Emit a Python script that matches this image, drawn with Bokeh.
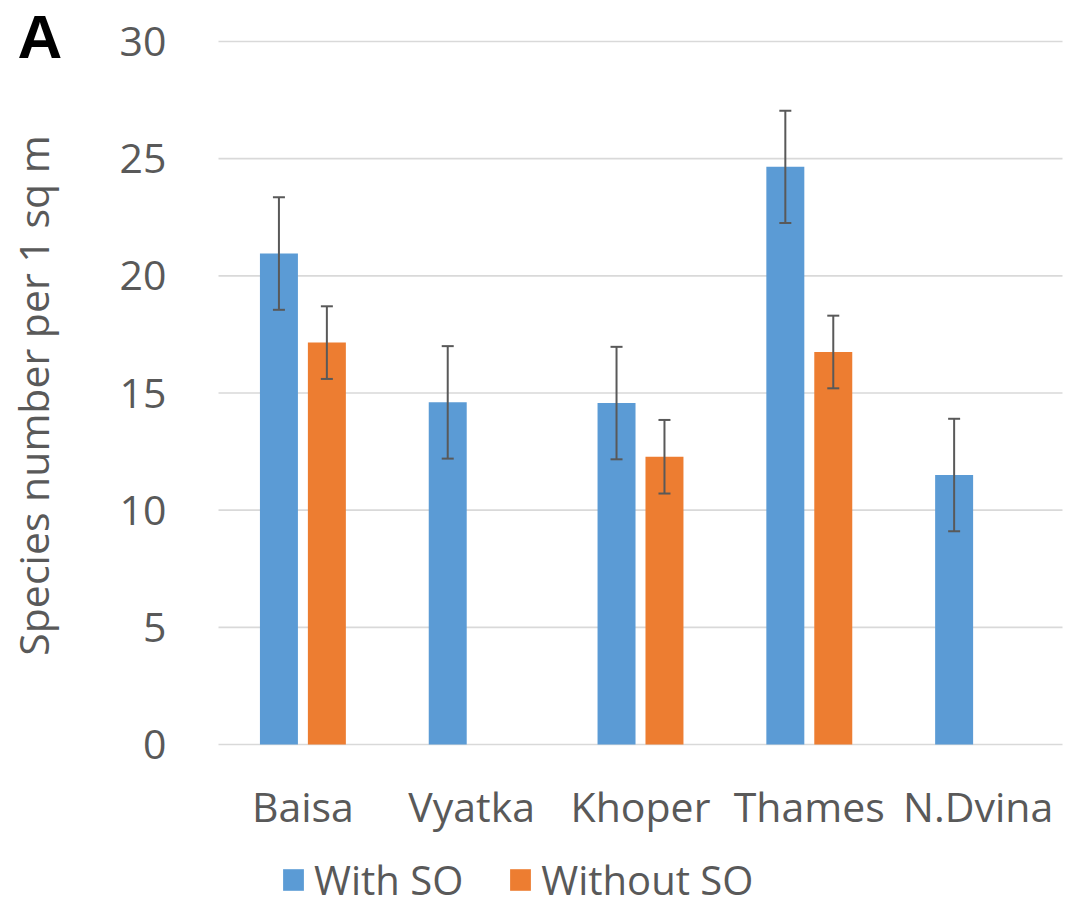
import math
from bokeh.plotting import figure
from bokeh.models import (ColumnDataSource, Range1d, Whisker, TeeHead,
                          Legend, LegendItem, Label, FixedTicker)
from bokeh.embed import file_html
from bokeh.resources import INLINE

# Mean species number per 1 sq m with standard errors, per river
rivers = ["Baisa", "Vyatka", "Khoper", "Thames", "N.Dvina"]
with_so = [20.95, 14.6, 14.57, 24.65, 11.5]
with_so_err = [2.4, 2.4, 2.4, 2.4, 2.4]
without_so = [17.15, None, 12.28, 16.75, None]
without_so_err = [1.55, None, 1.57, 1.55, None]
y_ticks = [0, 5, 10, 15, 20, 25, 30]
y_title = "Species number per 1 sq m"
panel_letter = "A"

BLUE = "#5B9BD5"
ORANGE = "#ED7D31"
TEXT = "#595959"
GRID = "#D9D9D9"
FONT = "Open Sans"

W, H = 1066, 907
# plot area inside the canvas (pixels)
AREA_L, AREA_R, AREA_T, AREA_B = 218, 1062, 41, 744
Y_MIN, Y_MAX = 0, 30

n = len(rivers)
centers = [i + 0.5 for i in range(n)]
px_x = (AREA_R - AREA_L) / n
px_y = (AREA_B - AREA_T) / (Y_MAX - Y_MIN)
x_range = Range1d(-AREA_L / px_x, n + (W - AREA_R) / px_x)
y_range = Range1d(Y_MIN - (H - AREA_B) / px_y, Y_MAX + AREA_T / px_y)

offset = 0.142
bar_w = 0.225


def series_source(values, errors, shift):
    rows = [(c + shift, v, e) for c, v, e in zip(centers, values, errors) if v is not None]
    return ColumnDataSource(dict(
        x=[x for x, _, _ in rows],
        value=[v for _, v, _ in rows],
        upper=[v + e for _, v, e in rows],
        lower=[v - e for _, v, e in rows],
    ))


src_with = series_source(with_so, with_so_err, -offset)
src_without = series_source(without_so, without_so_err, offset)

p = figure(x_range=x_range, y_range=y_range, width=W, height=H,
           output_backend="svg", toolbar_location=None, min_border=0)
p.outline_line_color = None
p.background_fill_color = "white"
p.border_fill_color = "white"
p.xgrid.visible = False
p.ygrid.visible = False

# horizontal grid lines across the bars area only
p.segment(x0=0, x1=n, y0=y_ticks, y1=y_ticks, line_color=GRID, line_width=1.6,
          level="underlay")

r_with = p.vbar(x="x", top="value", width=bar_w, source=src_with,
                fill_color=BLUE, line_color=None)
r_without = p.vbar(x="x", top="value", width=bar_w, source=src_without,
                   fill_color=ORANGE, line_color=None)

for src in (src_with, src_without):
    p.add_layout(Whisker(
        source=src, base="x", upper="upper", lower="lower",
        line_color=TEXT, line_width=2, level="annotation",
        upper_head=TeeHead(size=12, line_color=TEXT, line_width=2),
        lower_head=TeeHead(size=12, line_color=TEXT, line_width=2),
    ))

# y axis at the left edge of the bars area
yax = p.yaxis[0]
yax.fixed_location = 0
yax.ticker = FixedTicker(ticks=y_ticks)
yax.axis_line_color = None
yax.major_tick_line_color = None
yax.minor_tick_line_color = None
yax.major_label_text_font = FONT
yax.major_label_text_font_size = "41px"
yax.major_label_text_color = TEXT
yax.major_label_standoff = 46

# x axis along zero with the river names
xax = p.xaxis[0]
xax.fixed_location = 0
xax.ticker = FixedTicker(ticks=centers)
xax.major_label_overrides = {c: r for c, r in zip(centers, rivers)}
xax.axis_line_color = None
xax.major_tick_line_color = None
xax.minor_tick_line_color = None
xax.major_label_text_font = FONT
xax.major_label_text_font_size = "41px"
xax.major_label_text_color = TEXT
xax.major_label_standoff = 27

# rotated y title and panel letter
p.add_layout(Label(x=32, y=H - 395, x_units="screen", y_units="screen",
                   text=y_title, angle=math.pi / 2, text_align="center",
                   text_baseline="middle", text_font=FONT,
                   text_font_size="41px", text_color=TEXT))
p.add_layout(Label(x=17, y=H - 36, x_units="screen", y_units="screen",
                   text=panel_letter, text_align="left",
                   text_baseline="middle", text_font="Liberation Sans",
                   text_font_style="bold", text_font_size="62px",
                   text_color="black"))

legend = Legend(
    items=[LegendItem(label="With SO", renderers=[r_with]),
           LegendItem(label="Without SO", renderers=[r_without])],
    orientation="horizontal", location=(280, 0),
    glyph_width=26, glyph_height=27, label_standoff=8, spacing=44,
    padding=0, margin=0, border_line_color=None, background_fill_alpha=0,
    label_text_font=FONT, label_text_font_size="40px", label_text_color=TEXT,
)
p.add_layout(legend, "center")

open("out.html", "w").write(file_html(p, INLINE))
